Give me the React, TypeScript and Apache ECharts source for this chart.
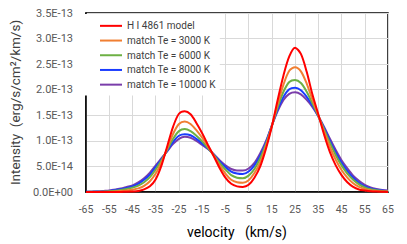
import React, { useEffect, useRef } from "react";
import * as echarts from "echarts";

const velocity = [-65, -62.5, -60, -57.5, -55, -52.5, -50, -47.5, -45, -42.5, -40, -37.5, -35, -32.5, -30, -27.5, -25, -22.5, -20, -17.5, -15, -12.5, -10, -7.5, -5, -2.5, 0, 2.5, 5, 7.5, 10, 12.5, 15, 17.5, 20, 22.5, 25, 27.5, 30, 32.5, 35, 37.5, 40, 42.5, 45, 47.5, 50, 52.5, 55, 57.5, 60, 62.5, 65];

// intensities in units of 1e-13 erg/s/cm2/km/s
const model = [0, 0, 0, 0, 0, 0.001, 0.002, 0.005, 0.01, 0.02, 0.05, 0.11, 0.25, 0.52, 0.9, 1.28, 1.53, 1.58, 1.52, 1.35, 1.15, 0.92, 0.7, 0.47, 0.28, 0.16, 0.11, 0.1, 0.14, 0.28, 0.5, 0.85, 1.28, 1.8, 2.28, 2.65, 2.82, 2.7, 2.35, 1.9, 1.52, 1.12, 0.78, 0.52, 0.33, 0.19, 0.1, 0.05, 0.03, 0.015, 0.008, 0.004, 0.002];
const te3000 = [0, 0.001, 0.002, 0.004, 0.007, 0.012, 0.02, 0.03, 0.045, 0.07, 0.12, 0.21, 0.36, 0.58, 0.86, 1.14, 1.33, 1.38, 1.33, 1.21, 1.06, 0.89, 0.71, 0.52, 0.36, 0.24, 0.19, 0.18, 0.23, 0.37, 0.58, 0.9, 1.29, 1.72, 2.1, 2.37, 2.44, 2.36, 2.12, 1.8, 1.5, 1.18, 0.88, 0.63, 0.43, 0.28, 0.17, 0.1, 0.06, 0.035, 0.02, 0.012, 0.008];
const te6000 = [0.002, 0.003, 0.005, 0.009, 0.015, 0.025, 0.04, 0.06, 0.085, 0.125, 0.19, 0.29, 0.44, 0.62, 0.83, 1.04, 1.19, 1.23, 1.19, 1.1, 0.99, 0.86, 0.72, 0.57, 0.44, 0.33, 0.28, 0.27, 0.32, 0.45, 0.66, 0.94, 1.29, 1.66, 1.96, 2.15, 2.19, 2.13, 1.96, 1.73, 1.49, 1.22, 0.96, 0.72, 0.52, 0.36, 0.24, 0.15, 0.09, 0.055, 0.035, 0.022, 0.015];
const te8000 = [0.004, 0.005, 0.008, 0.014, 0.022, 0.038, 0.055, 0.08, 0.11, 0.16, 0.24, 0.34, 0.49, 0.64, 0.81, 0.98, 1.1, 1.13, 1.11, 1.04, 0.95, 0.85, 0.73, 0.6, 0.49, 0.4, 0.36, 0.35, 0.4, 0.52, 0.71, 0.97, 1.3, 1.61, 1.86, 2.01, 2.04, 1.99, 1.86, 1.69, 1.48, 1.25, 1.0, 0.77, 0.57, 0.41, 0.28, 0.18, 0.11, 0.07, 0.045, 0.03, 0.02];
const te10000 = [0.005, 0.007, 0.01, 0.02, 0.03, 0.05, 0.07, 0.1, 0.13, 0.19, 0.27, 0.38, 0.52, 0.66, 0.8, 0.94, 1.04, 1.08, 1.06, 1.0, 0.92, 0.84, 0.74, 0.62, 0.52, 0.45, 0.42, 0.42, 0.46, 0.57, 0.76, 1.0, 1.3, 1.58, 1.8, 1.92, 1.95, 1.91, 1.8, 1.66, 1.48, 1.27, 1.04, 0.82, 0.62, 0.46, 0.32, 0.22, 0.14, 0.09, 0.06, 0.04, 0.03];

const seriesNames = ["H I 4861 model", "match Te = 3000 K", "match Te = 6000 K", "match Te = 8000 K", "match Te = 10000 K"];
const seriesValues = [model, te3000, te6000, te8000, te10000];
const seriesColors = ["#FF0000", "#F07F32", "#6DB044", "#1A3CFF", "#7A3DAA"];

const FONT = "Roboto, 'Noto Sans', sans-serif";

function fmtY(v: number): string {
  const s = (v * 1e-13).toExponential(1);
  const [m, e] = s.split("e");
  const sign = e[0] === "-" ? "-" : "+";
  const digits = e.replace(/[+-]/, "").padStart(2, "0");
  return `${m}E${sign}${digits}`;
}

export default function App() {
  const ref = useRef<HTMLDivElement>(null);
  useEffect(() => {
    if (!ref.current) return;
    const chart = echarts.init(ref.current, null, { renderer: "svg" });
    chart.setOption({
      animation: false,
      backgroundColor: "#ffffff",
      grid: {
        left: 84,
        top: 13,
        right: 19,
        bottom: 52,
        show: true,
        borderColor: "#000000",
        borderWidth: 1.5,
        containLabel: false,
      },
      legend: {
        orient: "vertical",
        left: 85,
        top: 14,
        data: seriesNames,
        icon: "rect",
        backgroundColor: "#ffffff",
        padding: [6, 4, 5, 15],
        itemWidth: 22,
        itemHeight: 2,
        itemGap: 3,
        textStyle: { fontFamily: FONT, fontSize: 10, color: "#404040", lineHeight: 11.7 },
      },
      xAxis: {
        type: "value",
        min: -65,
        max: 65,
        interval: 10,
        name: "velocity   (km/s)",
        nameLocation: "middle",
        nameGap: 33,
        nameTextStyle: { fontFamily: FONT, fontSize: 14, color: "#000000" },
        axisLine: { show: true, onZero: false, lineStyle: { color: "#000000", width: 1.5 } },
        axisTick: { show: false },
        axisLabel: { fontFamily: FONT, fontSize: 10.5, color: "#595959", margin: 12 },
        splitLine: { show: true, lineStyle: { color: "#D9D9D9", width: 1 } },
      },
      yAxis: {
        type: "value",
        min: 0,
        max: 3.5,
        interval: 0.5,
        name: "Intensity  (erg/s/cm²/km/s)",
        nameLocation: "middle",
        nameGap: 62,
        nameTextStyle: { fontFamily: FONT, fontSize: 13.5, color: "#404040" },
        axisLine: { show: true, onZero: false, lineStyle: { color: "#000000", width: 1.5 } },
        axisTick: { show: false },
        axisLabel: { fontFamily: FONT, fontSize: 11, color: "#595959", margin: 13, formatter: fmtY },
        splitLine: { show: true, lineStyle: { color: "#D9D9D9", width: 1 } },
      },
      series: seriesNames.map((name, i) => ({
        name,
        type: "line",
        symbol: "none",
        smooth: 0.3,
        data: velocity.map((v, j) => [v, seriesValues[i][j]]),
        lineStyle: { color: seriesColors[i], width: 2 },
        itemStyle: { color: seriesColors[i] },
        z: 10 - i,
      })),
    });
    return () => chart.dispose();
  }, []);
  return <div ref={ref} style={{ position: "fixed", left: 0, top: 0, width: 407, height: 244 }} />;
}
